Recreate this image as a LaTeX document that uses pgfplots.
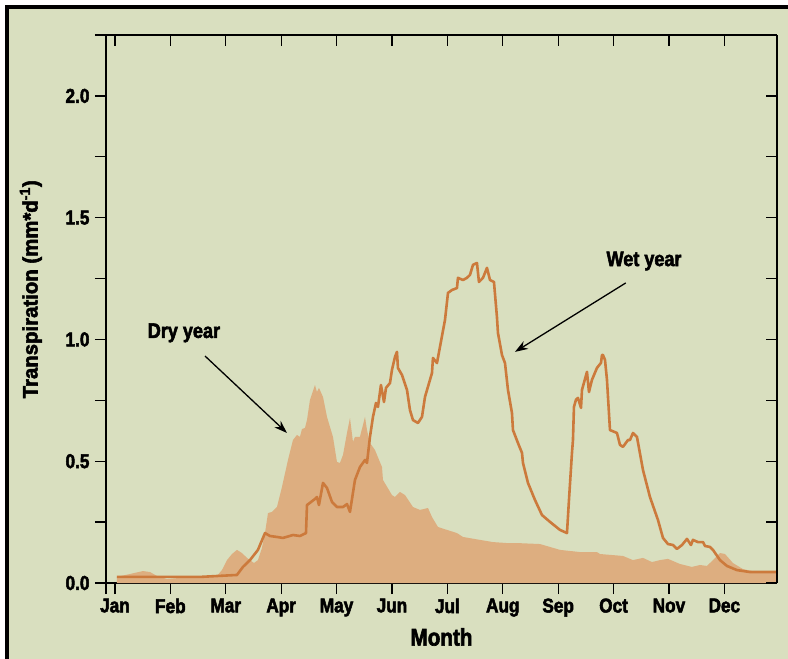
\documentclass[border=0pt]{standalone}
\usepackage{pgfplots}
\pgfplotsset{compat=1.18}
\usepackage{fontspec}
\setmainfont{Liberation Sans}[FakeStretch=0.86, BoldFeatures={FakeBold=2.5}]
\newfontfamily\ylabfont{Liberation Sans}[FakeStretch=0.97, BoldFeatures={FakeBold=2.5}]
\usetikzlibrary{arrows.meta}
\definecolor{bgc}{RGB}{217,223,191}
\definecolor{dryc}{RGB}{221,174,128}
\definecolor{wetc}{RGB}{204,122,60}
\begin{document}
\begin{tikzpicture}
\fill[white] (-106pt,-76pt) rectangle (682pt,583pt);
\fill[bgc] (-97pt,-76pt) rectangle (682pt,574pt);
\fill[black] (-101pt,-76pt) rectangle (-97pt,578pt);
\fill[black] (-101pt,574pt) rectangle (682pt,578pt);
\begin{axis}[
  at={(0pt,0pt)}, anchor=south west,
  scale only axis, width=671pt, height=548pt,
  xmin=0.838, xmax=12.95, ymin=0, ymax=2.25,
  axis x line*=bottom, axis y line*=left,
  axis line style={line width=1.3pt},
  tick style={line width=1.3pt, black},
  tick align=outside,
  major tick length=11pt, minor tick length=11pt,
  xtick={1,2,3,4,5,6,7,8,9,10,11,12},
  xticklabels={Jan,Feb,Mar,Apr,May,Jun,Jul,Aug,Sep,Oct,Nov,Dec},
  extra x ticks={0.838}, extra x tick labels={},
  ytick={0,0.5,1,1.5,2},
  minor ytick={0.25,0.75,1.25,1.75,2.25},
  yticklabel style={/pgf/number format/fixed,/pgf/number format/fixed zerofill,/pgf/number format/precision=1, xshift=-2pt},
  xticklabel style={yshift=-1pt},
  /pgf/number format/assume math mode=true,
  tick label style={font=\fontsize{20}{20}\selectfont\bfseries},
  xlabel={Month},
  xlabel style={at={(axis description cs:0.5,-0.0985)}, anchor=center, font=\fontsize{24}{24}\selectfont\bfseries},
  ylabel={Transpiration (mm*d\textsuperscript{-1})},
  ylabel style={at={(axis description cs:-0.112,0.536)}, anchor=center, rotate=0, font=\fontsize{21}{21}\ylabfont\bfseries},
  clip=false,
]
\addplot[fill=dryc, draw=none] table {
1.036 0.025
1.271 0.037
1.505 0.049
1.632 0.045
1.758 0.029
1.939 0.016
2.173 0.021
2.534 0.025
2.841 0.029
2.931 0.053
3.022 0.094
3.112 0.119
3.202 0.136
3.292 0.123
3.383 0.103
3.437 0.094
3.509 0.082
3.581 0.094
3.653 0.144
3.708 0.205
3.762 0.287
3.834 0.292
3.924 0.312
4.014 0.394
4.123 0.505
4.213 0.587
4.285 0.608
4.339 0.600
4.375 0.632
4.430 0.637
4.466 0.669
4.520 0.752
4.610 0.813
4.646 0.784
4.682 0.801
4.755 0.764
4.827 0.682
4.935 0.600
5.007 0.497
5.061 0.493
5.116 0.526
5.188 0.616
5.242 0.678
5.296 0.579
5.332 0.600
5.422 0.600
5.513 0.682
5.549 0.628
5.603 0.575
5.693 0.546
5.820 0.476
5.838 0.423
6.000 0.361
6.054 0.353
6.144 0.374
6.235 0.361
6.379 0.312
6.505 0.300
6.650 0.308
6.722 0.271
6.830 0.230
6.993 0.218
7.173 0.205
7.282 0.189
7.588 0.177
7.823 0.168
8.076 0.164
8.256 0.164
8.671 0.160
8.852 0.148
9.032 0.136
9.394 0.127
9.700 0.127
9.755 0.119
10.170 0.111
10.350 0.094
10.531 0.103
10.693 0.086
10.838 0.094
10.982 0.099
11.199 0.078
11.415 0.066
11.560 0.074
11.686 0.070
11.794 0.094
11.921 0.123
12.011 0.119
12.155 0.082
12.336 0.057
12.588 0.045
12.950 0.041
} \closedcycle;
\addplot[wetc, line width=2.6pt, line join=round] table {
1.036 0.025
1.812 0.025
2.534 0.025
3.202 0.033
3.310 0.066
3.437 0.094
3.581 0.136
3.708 0.205
3.798 0.193
3.924 0.189
4.032 0.185
4.213 0.197
4.339 0.193
4.448 0.205
4.466 0.320
4.610 0.345
4.646 0.353
4.682 0.320
4.755 0.411
4.827 0.390
4.917 0.333
5.007 0.312
5.116 0.312
5.188 0.324
5.242 0.292
5.332 0.423
5.422 0.476
5.513 0.505
5.549 0.493
5.603 0.600
5.657 0.682
5.711 0.739
5.747 0.723
5.801 0.813
5.856 0.743
5.892 0.801
5.964 0.821
6.000 0.875
6.054 0.928
6.090 0.949
6.108 0.883
6.181 0.854
6.271 0.793
6.325 0.710
6.379 0.669
6.469 0.657
6.542 0.682
6.596 0.764
6.722 0.862
6.740 0.924
6.812 0.903
6.866 0.969
6.957 1.080
7.011 1.191
7.083 1.203
7.173 1.211
7.191 1.253
7.282 1.244
7.354 1.253
7.408 1.265
7.462 1.306
7.534 1.314
7.570 1.236
7.643 1.253
7.715 1.294
7.769 1.244
7.841 1.236
7.895 1.092
7.913 1.027
7.986 0.936
8.040 0.903
8.094 0.793
8.166 0.698
8.184 0.628
8.274 0.575
8.347 0.534
8.365 0.493
8.455 0.411
8.581 0.341
8.708 0.279
8.852 0.251
9.032 0.218
9.159 0.205
9.195 0.341
9.249 0.534
9.267 0.587
9.285 0.723
9.321 0.752
9.357 0.760
9.412 0.719
9.430 0.793
9.520 0.867
9.556 0.784
9.610 0.834
9.700 0.883
9.773 0.904
9.791 0.936
9.809 0.936
9.845 0.916
9.881 0.834
9.935 0.628
10.061 0.616
10.116 0.567
10.170 0.559
10.260 0.587
10.296 0.587
10.350 0.616
10.422 0.600
10.531 0.464
10.657 0.353
10.801 0.259
10.892 0.185
10.982 0.160
11.072 0.156
11.144 0.140
11.235 0.156
11.325 0.181
11.397 0.156
11.433 0.177
11.523 0.168
11.614 0.168
11.650 0.152
11.740 0.148
11.794 0.136
11.921 0.094
12.047 0.070
12.227 0.053
12.462 0.045
12.697 0.045
12.950 0.045
};
\node[font=\fontsize{21}{21}\selectfont\bfseries] at (axis cs:2.245,1.027) {Dry year};
\node[font=\fontsize{21}{21}\selectfont\bfseries] at (axis cs:10.55,1.322) {Wet year};
\draw[line width=1.3pt, -{Stealth[length=13pt,width=9pt]}] (axis cs:2.625,0.932) -- (axis cs:4.105,0.616);
\draw[line width=1.3pt, -{Stealth[length=13pt,width=9pt]}] (axis cs:10.22,1.232) -- (axis cs:8.22,0.949);
\end{axis}
\begin{axis}[
  at={(0pt,0pt)}, anchor=south west,
  scale only axis, width=671pt, height=548pt,
  xmin=0.838, xmax=12.95, ymin=0, ymax=2.25,
  axis x line*=top, axis y line*=right,
  axis line style={line width=1.3pt},
  tick style={line width=1.3pt, black},
  tick align=inside,
  major tick length=11pt, minor tick length=11pt,
  xtick={1,2,3,4,5,6,7,8,9,10,11,12},
  xticklabels={},
  ytick={0,0.5,1,1.5,2},
  minor ytick={0.25,0.75,1.25,1.75},
  yticklabels={},
]
\end{axis}
\end{tikzpicture}
\end{document}
